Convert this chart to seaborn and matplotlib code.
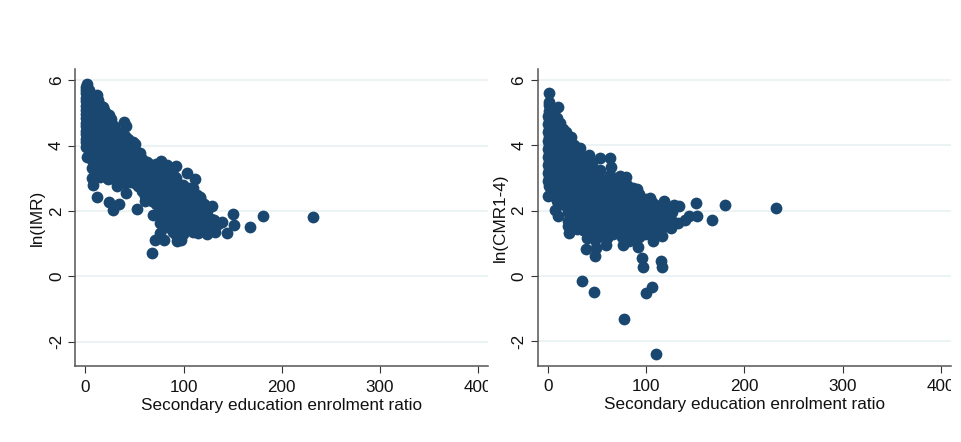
import matplotlib
matplotlib.use("Agg")
import matplotlib.pyplot as plt
from matplotlib.transforms import Bbox
import pandas as pd
import seaborn as sns

x_label = "Secondary education enrolment ratio"
y_labels = ["ln(IMR)", "ln(CMR1-4)"]
x_ticks = [0, 100, 200, 300, 400]
y_ticks = [-2, 0, 2, 4, 6]

# Left panel: points (edge points, then the dense mass column by column)
imr_x = [1.4, 11.5, 17.7, 24.4, 39.4, 41.4, 28.5, 48.9, 55.7, 63,
         76.7, 83, 92.3, 104, 112, 91, 105, 116.8, 129, 150.7,
         180.6, 232, 167.7, 151, 144, 139.5, 131, 132, 123.6, 115,
         106.6, 93.7, 97, 80, 71, 68, 76, 68.6, 76, 83,
         53, 60.8, 41.4, 34.6, 28.5, 23.8, 12.2, 8.1, 6.4, 15,
         23.4, 32.6, 2, 0.5,
         1, 1, 1, 1, 1, 1, 1, 1,
         7, 7, 7, 7, 7, 7, 7, 7, 7, 7,
         13, 13, 13, 13, 13, 13, 13, 13, 13, 13,
         19, 19, 19, 19, 19, 19, 19, 19, 19,
         26, 26, 26, 26, 26, 26, 26, 26,
         33, 33, 33, 33, 33, 33, 33,
         40, 40, 40, 40, 40, 40, 40,
         47, 47, 47, 47, 47, 47,
         54, 54, 54, 54, 54,
         61, 61, 61, 61, 61,
         68, 68, 68, 68, 68,
         75, 75, 75, 75, 75, 75, 75,
         82, 82, 82, 82, 82, 82, 82, 82,
         89, 89, 89, 89, 89, 89, 89, 89,
         96, 96, 96, 96, 96, 96, 96,
         103, 103, 103, 103, 103,
         110, 110, 110, 110, 110, 110,
         117, 117, 117, 117, 117,
         124, 124, 124, 124]
imr_y = [5.88, 5.56, 5.19, 4.93, 4.73, 4.6, 4.47, 4.12, 3.78, 3.5,
         3.53, 3.41, 3.36, 3.17, 2.98, 3.05, 2.69, 2.44, 2.16, 1.91,
         1.85, 1.81, 1.51, 1.56, 1.32, 1.66, 1.73, 1.37, 1.3, 1.32,
         1.47, 1.07, 1.12, 1.12, 1.1, 0.72, 1.32, 1.88, 1.63, 1.52,
         2.05, 2.29, 2.56, 2.22, 2.03, 2.28, 2.44, 2.78, 3.0, 3.05,
         2.97, 2.77, 3.64, 3.97,
         4.2, 4.45, 4.7, 4.95, 5.2, 5.45, 5.7, 5.8,
         3.3, 3.55, 3.8, 4.05, 4.3, 4.55, 4.8, 5.05, 5.3, 5.5,
         3.1, 3.35, 3.6, 3.85, 4.1, 4.35, 4.6, 4.85, 5.1, 5.4,
         3.1, 3.35, 3.6, 3.85, 4.1, 4.35, 4.6, 4.85, 5.1,
         3.0, 3.25, 3.5, 3.75, 4.0, 4.25, 4.5, 4.8,
         2.85, 3.1, 3.35, 3.6, 3.85, 4.1, 4.4,
         2.85, 3.1, 3.35, 3.6, 3.85, 4.1, 4.3,
         2.9, 3.15, 3.4, 3.65, 3.9, 4.1,
         2.75, 3.0, 3.25, 3.5, 3.75,
         2.45, 2.7, 2.95, 3.2, 3.45,
         2.3, 2.55, 2.8, 3.05, 3.3,
         1.9, 2.15, 2.4, 2.65, 2.9, 3.15, 3.45,
         1.6, 1.85, 2.1, 2.35, 2.6, 2.85, 3.1, 3.35,
         1.35, 1.6, 1.85, 2.1, 2.35, 2.6, 2.85, 3.1,
         1.2, 1.45, 1.7, 1.95, 2.2, 2.45, 2.7,
         1.6, 1.85, 2.1, 2.35, 2.6,
         1.45, 1.7, 1.95, 2.2, 2.45, 2.7,
         1.4, 1.65, 1.9, 2.15, 2.4,
         1.35, 1.6, 1.85, 2.0]

imr_fill_x = [4, 4, 4, 4, 4, 4, 4, 4, 4,
              10, 10, 10, 10, 10, 10, 10, 10, 10, 10,
              16, 16, 16, 16, 16, 16, 16, 16, 16,
              22.5, 22.5, 22.5, 22.5, 22.5, 22.5, 22.5, 22.5,
              29.5, 29.5, 29.5, 29.5, 29.5, 29.5, 29.5,
              36.5, 36.5, 36.5, 36.5, 36.5, 36.5,
              43.5, 43.5, 43.5, 43.5, 43.5, 43.5,
              50.5, 50.5, 50.5, 50.5, 50.5, 50.5,
              57.5, 57.5, 57.5, 57.5, 57.5,
              64.5, 64.5, 64.5, 64.5, 64.5,
              71.5, 71.5, 71.5, 71.5, 71.5, 71.5,
              78.5, 78.5, 78.5, 78.5, 78.5, 78.5, 78.5,
              85.5, 85.5, 85.5, 85.5, 85.5, 85.5, 85.5, 85.5,
              92.5, 92.5, 92.5, 92.5, 92.5, 92.5, 92.5, 92.5,
              99.5, 99.5, 99.5, 99.5, 99.5, 99.5, 99.5,
              106.5, 106.5, 106.5, 106.5, 106.5,
              113.5, 113.5, 113.5, 113.5, 113.5,
              120.5, 120.5, 120.5, 120.5,
              127, 135,
              0.5, 0.5, 0.5, 0.5, 0.5, 0.5, 0.5,
              66, 66, 69, 73, 73, 73, 62, 60, 58,
              48, 52, 123, 110, 128, 124, 119, 102]
imr_fill_y = [3.7, 3.95, 4.2, 4.45, 4.7, 4.95, 5.2, 5.45, 5.7,
              3.2, 3.45, 3.7, 3.95, 4.2, 4.45, 4.7, 4.95, 5.2, 5.45,
              3.2, 3.45, 3.7, 3.95, 4.2, 4.45, 4.7, 4.95, 5.2,
              3.2, 3.45, 3.7, 3.95, 4.2, 4.45, 4.7, 4.95,
              3.1, 3.35, 3.6, 3.85, 4.1, 4.35, 4.6,
              3.0, 3.25, 3.5, 3.75, 4.0, 4.25,
              3.0, 3.25, 3.5, 3.75, 4.0, 4.2,
              2.85, 3.1, 3.35, 3.6, 3.85, 4.05,
              2.6, 2.85, 3.1, 3.35, 3.6,
              2.45, 2.7, 2.95, 3.2, 3.45,
              2.2, 2.45, 2.7, 2.95, 3.2, 3.45,
              1.8, 2.05, 2.3, 2.55, 2.8, 3.05, 3.3,
              1.5, 1.75, 2.0, 2.25, 2.5, 2.75, 3.0, 3.25,
              1.25, 1.5, 1.75, 2.0, 2.25, 2.5, 2.75, 3.0,
              1.3, 1.55, 1.8, 2.05, 2.3, 2.55, 2.8,
              1.55, 1.8, 2.05, 2.3, 2.55,
              1.5, 1.75, 2.0, 2.25, 2.5,
              1.45, 1.7, 1.95, 2.2,
              1.5, 1.6,
              4.1, 4.35, 4.6, 4.85, 5.1, 5.35, 5.6,
              2.6, 2.85, 3.15, 2.55, 2.8, 3.05, 2.6, 3.25, 3.0,
              3.3, 3.5, 1.5, 1.35, 1.75, 2.1, 1.55, 1.45]

# Right panel
cmr_x = [1.4, 10.2, 24, 33, 41.4, 52.6, 63.5, 64.5, 52.6, 73,
         79.8, 90.6, 103.5, 118, 128, 133, 150.7, 180.6, 232, 167.3,
         151.4, 144, 139, 132, 125, 116.4, 107, 91.6, 76.4, 83,
         58.7, 47.5, 38.4, 48.5, 40, 22, 20.4, 10.2, 7.5, 0,
         96, 97, 115, 116, 35, 46.5, 77.7, 100, 106, 110,
         1, 1, 1, 1, 1, 1, 1, 1, 1, 1,
         6, 6, 6, 6, 6, 6, 6, 6, 6, 6,
         12, 12, 12, 12, 12, 12, 12, 12, 12, 12,
         18, 18, 18, 18, 18, 18, 18, 18, 18,
         24, 24, 24, 24, 24, 24, 24, 24, 24, 24,
         30, 30, 30, 30, 30, 30, 30, 30, 30, 30,
         36, 36, 36, 36, 36, 36, 36, 36, 36,
         42, 42, 42, 42, 42, 42, 42, 42, 42,
         48, 48, 48, 48, 48, 48, 48, 48, 48,
         54, 54, 54, 54, 54, 54, 54,
         60, 60, 60, 60, 60, 60, 60,
         66, 66, 66, 66, 66, 66, 66,
         72, 72, 72, 72, 72, 72, 72,
         78, 78, 78, 78, 78, 78, 78,
         84, 84, 84, 84, 84, 84,
         90, 90, 90, 90, 90, 90,
         96, 96, 96, 96, 96,
         102, 102, 102, 102,
         108, 108, 108, 108, 108,
         114, 114, 114, 114,
         120, 120, 120,
         126, 126]
cmr_y = [5.6, 5.19, 4.25, 3.91, 3.71, 3.61, 3.61, 3.35, 3.25, 3.05,
         3.03, 2.66, 2.39, 2.29, 2.19, 2.13, 2.23, 2.17, 2.07, 1.71,
         1.83, 1.83, 1.73, 1.63, 1.47, 1.22, 1.06, 0.88, 0.96, 1.07,
         0.96, 0.61, 0.83, 0.86, 1.17, 1.32, 1.52, 1.83, 2.03, 2.46,
         0.54, 0.27, 0.46, 0.27, -0.16, -0.48, -1.32, -0.51, -0.35, -2.39,
         2.75, 3.0, 3.25, 3.5, 3.75, 4.0, 4.25, 4.5, 4.8, 5.25,
         2.45, 2.75, 3.0, 3.25, 3.5, 3.75, 4.0, 4.25, 4.5, 4.95,
         2.2, 2.5, 2.75, 3.0, 3.25, 3.5, 3.75, 4.0, 4.25, 4.7,
         2.15, 2.4, 2.65, 2.9, 3.15, 3.4, 3.65, 3.9, 4.4,
         1.55, 1.8, 2.05, 2.3, 2.55, 2.8, 3.05, 3.3, 3.55, 3.85,
         1.45, 1.7, 1.95, 2.2, 2.45, 2.7, 2.95, 3.2, 3.45, 3.7,
         1.4, 1.65, 1.9, 2.15, 2.4, 2.65, 2.9, 3.15, 3.45,
         1.3, 1.55, 1.8, 2.05, 2.3, 2.55, 2.8, 3.05, 3.35,
         1.1, 1.35, 1.6, 1.85, 2.1, 2.35, 2.6, 2.85, 3.1,
         1.25, 1.55, 1.8, 2.05, 2.3, 2.55, 2.85,
         1.15, 1.45, 1.75, 2.0, 2.3, 2.55, 2.85,
         1.3, 1.55, 1.8, 2.05, 2.3, 2.6, 2.9,
         1.35, 1.6, 1.85, 2.1, 2.35, 2.6, 2.85,
         1.1, 1.4, 1.7, 1.95, 2.2, 2.45, 2.75,
         1.25, 1.5, 1.8, 2.05, 2.3, 2.6,
         1.1, 1.35, 1.65, 1.95, 2.2, 2.45,
         1.3, 1.55, 1.8, 2.05, 2.3,
         1.35, 1.6, 1.85, 2.15,
         1.3, 1.5, 1.75, 2.0, 2.2,
         1.4, 1.65, 1.9, 2.1,
         1.6, 1.85, 2.1,
         1.7, 1.95]

cmr_fill_x = [1, 1,
              3.5, 3.5, 3.5, 3.5, 3.5, 3.5, 3.5, 3.5, 3.5, 3.5, 3.5,
              9, 9, 9, 9, 9, 9, 9, 9, 9, 9, 9,
              15, 15, 15, 15, 15, 15, 15, 15, 15, 15,
              21, 21, 21, 21, 21, 21, 21, 21, 21, 21, 21,
              27, 27, 27, 27, 27, 27, 27, 27, 27, 27, 27,
              33, 33, 33, 33, 33, 33, 33, 33, 33, 33,
              39, 39, 39, 39, 39, 39, 39, 39, 39, 39,
              45, 45, 45, 45, 45, 45, 45, 45, 45, 45,
              51, 51, 51, 51, 51, 51, 51, 51,
              57, 57, 57, 57, 57, 57, 57, 57,
              63, 63, 63, 63, 63, 63, 63, 63,
              69, 69, 69, 69, 69, 69, 69,
              75, 75, 75, 75, 75, 75, 75, 75,
              81, 81, 81, 81, 81, 81, 81,
              87, 87, 87, 87, 87, 87, 87,
              93, 93, 93, 93, 93, 93,
              99, 99, 99, 99, 99,
              105, 105, 105, 105, 105,
              111, 111, 111, 111,
              117, 117, 117, 117,
              123, 123, 123,
              0.5, 0.5, 0.5, 0.5, 0.5, 0.5, 0.5, 0.5, 0.5,
              30, 36, 42, 54, 60, 66]
cmr_fill_y = [5.05, 5.34,
              2.6, 2.85, 3.1, 3.35, 3.6, 3.85, 4.1, 4.35, 4.6, 4.85, 5.05,
              2.3, 2.6, 2.85, 3.1, 3.35, 3.6, 3.85, 4.1, 4.35, 4.6, 4.85,
              2.2, 2.45, 2.7, 2.95, 3.2, 3.45, 3.7, 3.95, 4.2, 4.5,
              1.7, 1.95, 2.2, 2.45, 2.7, 2.95, 3.2, 3.45, 3.7, 3.95, 4.25,
              1.5, 1.75, 2.0, 2.25, 2.5, 2.75, 3.0, 3.25, 3.5, 3.75, 4.0,
              1.5, 1.75, 2.0, 2.25, 2.5, 2.75, 3.0, 3.25, 3.5, 3.7,
              1.4, 1.65, 1.9, 2.15, 2.4, 2.65, 2.9, 3.15, 3.4, 3.65,
              1.2, 1.45, 1.7, 1.95, 2.2, 2.45, 2.7, 2.95, 3.2, 3.45,
              1.3, 1.55, 1.8, 2.05, 2.3, 2.55, 2.8, 3.0,
              1.2, 1.5, 1.75, 2.0, 2.25, 2.5, 2.75, 2.95,
              1.35, 1.6, 1.85, 2.1, 2.35, 2.6, 2.85, 3.1,
              1.4, 1.65, 1.9, 2.15, 2.4, 2.65, 2.95,
              1.2, 1.5, 1.75, 2.0, 2.25, 2.5, 2.75, 3.0,
              1.25, 1.5, 1.75, 2.0, 2.25, 2.5, 2.8,
              1.2, 1.45, 1.7, 1.95, 2.2, 2.45, 2.7,
              1.2, 1.45, 1.7, 1.95, 2.2, 2.5,
              1.3, 1.55, 1.8, 2.05, 2.35,
              1.25, 1.5, 1.75, 2.0, 2.3,
              1.35, 1.6, 1.85, 2.1,
              1.5, 1.75, 2.0, 2.2,
              1.6, 1.85, 2.05,
              2.9, 3.15, 3.4, 3.65, 3.9, 4.15, 4.4, 4.65, 4.9,
              1.6, 1.55, 1.45, 1.4, 1.3, 1.45]

NAVY = "#1a476f"
GRID = "#eaf2f3"
AXIS = "#555555"
W, H = 961, 442

sns.set_theme(style="white")
plt.rcParams["font.family"] = ["Liberation Sans", "DejaVu Sans"]

fig = plt.figure(figsize=(W / 100, H / 100), dpi=100, facecolor="white")


def panel(left_px, right_px, top_px, bottom_px, xs, ys, ylab, ylab_x):
    ax = fig.add_axes([left_px / W, 1 - bottom_px / H,
                       (right_px - left_px) / W, (bottom_px - top_px) / H])
    data = pd.DataFrame({"x": xs, "y": ys})
    sns.scatterplot(data=data, x="x", y="y", ax=ax, color=NAVY, s=72,
                    linewidth=0, alpha=1, zorder=3, clip_on=False)
    ax.set_xlim(-10.5, 410)
    ax.set_ylim(-2.74, 6.34)
    ax.set_xticks(x_ticks)
    ax.set_yticks(y_ticks)
    ax.set_xticklabels([str(t) for t in x_ticks])
    ax.set_yticklabels([str(t) for t in y_ticks], rotation=90, va="center")
    ax.grid(axis="y", color=GRID, linewidth=1.3, zorder=0)
    ax.grid(axis="x", visible=False)
    ax.set_axisbelow(True)
    for side in ("top", "right"):
        ax.spines[side].set_visible(False)
    for side in ("left", "bottom"):
        ax.spines[side].set_color(AXIS)
        ax.spines[side].set_linewidth(1.1)
    ax.tick_params(axis="both", length=5, width=0.8, color="#333333",
                   labelsize=12.3, labelcolor="#111111",
                   bottom=True, left=True)
    ax.tick_params(axis="x", pad=5)
    ax.tick_params(axis="y", pad=3)
    ax.set_xlabel(x_label, fontsize=12.3, color="#111111", labelpad=2)
    ax.set_ylabel(ylab, fontsize=12.3, color="#111111")
    ax.yaxis.set_label_coords((ylab_x + 8 - left_px) / (right_px - left_px), 0.5)
    clip = Bbox([[0, 0], [right_px, H]])
    for lab in ax.get_xticklabels():
        lab.set_clip_box(clip)
        lab.set_clip_on(True)
    return ax


panel(75, 488, 69, 366, imr_x + imr_fill_x, imr_y + imr_fill_y, y_labels[0], 37)
panel(537.5, 951, 69, 365.5, cmr_x + cmr_fill_x, cmr_y + cmr_fill_y, y_labels[1], 500)

fig.savefig("out.png", dpi=100, facecolor="white")
